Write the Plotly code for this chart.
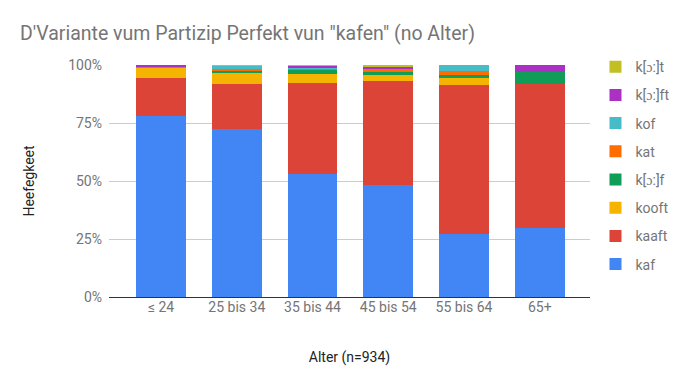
import plotly.graph_objects as go

categories = ["≤ 24", "25 bis 34", "35 bis 44", "45 bis 54", "55 bis 64", "65+"]

kaf = [78.2, 72.5, 53.0, 48.3, 27.1, 29.7]
kaaft = [16.3, 19.5, 39.3, 44.9, 64.4, 62.2]
kooft = [4.5, 4.4, 3.9, 2.6, 3.0, 0.0]
kof_f = [0.0, 1.2, 2.0, 1.3, 1.3, 5.3]      # k[ɔ:]f
kat = [0.3, 0.7, 0.3, 1.3, 1.7, 0.0]
kof = [0.0, 1.3, 0.5, 0.0, 2.5, 0.0]
kofft = [0.7, 0.0, 0.7, 0.9, 0.0, 2.8]      # k[ɔ:]ft
koft = [0.0, 0.4, 0.3, 0.7, 0.0, 0.0]       # k[ɔ:]t

series = [
    ("kaf", kaf, "#4285F4"),
    ("kaaft", kaaft, "#DB4437"),
    ("kooft", kooft, "#F4B400"),
    ("k[ɔ:]f", kof_f, "#0F9D58"),
    ("kat", kat, "#FF6D00"),
    ("kof", kof, "#46BDC6"),
    ("k[ɔ:]ft", kofft, "#AB30C4"),
    ("k[ɔ:]t", koft, "#C2BF24"),
]

fig = go.Figure()
for i, (name, vals, col) in enumerate(series):
    fig.add_trace(go.Bar(
        x=categories, y=vals, name=name, marker_color=col,
        marker_line_width=0, legendgroup=name, legendrank=100 - i,
        hovertemplate="%{x}: %{y}%<extra>" + name + "</extra>",
    ))

fig.update_layout(
    barmode="stack",
    bargap=0.345,
    width=683, height=386,
    margin=dict(l=109, r=93, t=65, b=89, autoexpand=False),
    paper_bgcolor="white", plot_bgcolor="white",
    font=dict(family="Roboto", color="#757575", size=14),
    title=dict(
        text="D'Variante vum Partizip Perfekt vun \"kafen\" (no Alter)",
        x=20 / 683, xanchor="left", y=1 - 33 / 386, yanchor="middle",
        font=dict(family="Roboto", size=19.5, color="#757575"),
    ),
    legend=dict(
        x=1.0114, xanchor="left", y=1.06, yanchor="top",
        traceorder="grouped", tracegroupgap=7,
        font=dict(family="Roboto", size=14, color="#757575"),
        itemwidth=30, maxheight=380,
    ),
    xaxis=dict(
        title=dict(text="Alter (n=934)", font=dict(color="#222222", size=14), standoff=38),
        showgrid=False, showline=False, ticks="",
        range=[-0.687, 5.663],
        tickfont=dict(size=14, color="#757575"),
    ),
    yaxis=dict(
        title=dict(text="Heefegkeet", font=dict(color="#222222", size=14), standoff=30),
        range=[0, 100], tickvals=[0, 25, 50, 75, 100],
        ticktext=["0%", "25%", "50%", "75%", "100%"],
        showgrid=True, gridcolor="#CCCCCC", gridwidth=1,
        zeroline=True, zerolinecolor="#333333", zerolinewidth=1,
        tickfont=dict(size=14, color="#757575"),
        ticks="", showline=False, ticklabelstandoff=6,
    ),
)

fig.write_html("out.html", config={"displayModeBar": False},
               post_script="document.body.style.margin='0';")
